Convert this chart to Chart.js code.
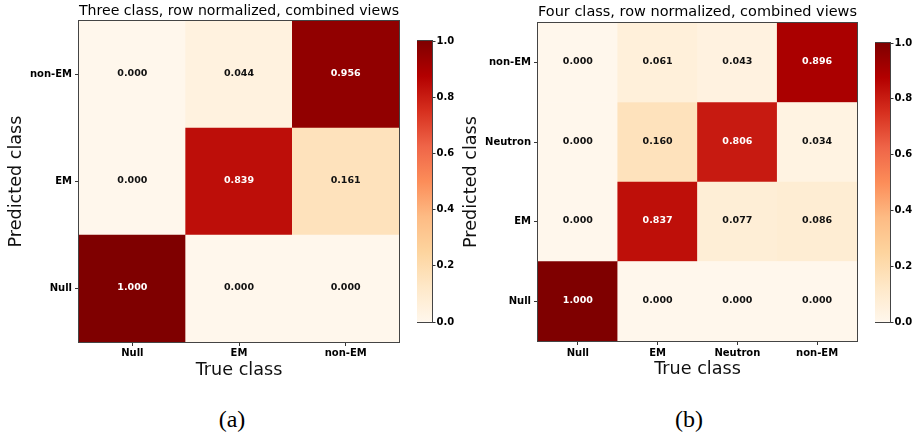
<!DOCTYPE html>
<html>
<head>
<meta charset="utf-8">
<script src="https://cdn.jsdelivr.net/npm/chart.js@4.4.0/dist/chart.umd.min.js"></script>
<style>
  body { margin: 0; background: #fff; width: 917px; height: 436px; position: relative; overflow: hidden; }
  canvas { position: absolute; }
  .cap { position: absolute; font-family: 'Liberation Serif', 'Times New Roman', serif; font-size: 24px; line-height: 24px; transform: translateX(-50%); color: #000; }
</style>
</head>
<body>
<canvas id="cm3" width="400" height="390" style="left:0;top:0"></canvas>
<canvas id="cb3" width="58" height="301" style="left:417px;top:31px"></canvas>
<canvas id="cm4" width="403" height="390" style="left:455px;top:0"></canvas>
<canvas id="cb4" width="58" height="299" style="left:875px;top:33px"></canvas>
<div class="cap" style="left:232px;top:407px">(a)</div>
<div class="cap" style="left:689px;top:407px">(b)</div>
<script>
// three class: columns = true class, rows = predicted class (bottom to top)
var trueClasses3 = ['Null', 'EM', 'non-EM'];
var predClasses3 = ['Null', 'EM', 'non-EM'];
var cm3Null  = [1.000, 0.000, 0.000];
var cm3EM    = [0.000, 0.839, 0.161];
var cm3NonEM = [0.000, 0.044, 0.956];

// four class
var trueClasses4 = ['Null', 'EM', 'Neutron', 'non-EM'];
var predClasses4 = ['Null', 'EM', 'Neutron', 'non-EM'];
var cm4Null    = [1.000, 0.000, 0.000, 0.000];
var cm4EM      = [0.000, 0.837, 0.077, 0.086];
var cm4Neutron = [0.000, 0.160, 0.806, 0.034];
var cm4NonEM   = [0.000, 0.061, 0.043, 0.896];

var colorbarTicks = [0.0, 0.2, 0.4, 0.6, 0.8, 1.0];

// matplotlib OrRd
var orrdStops = ['#fff7ec', '#fee8c8', '#fdd49e', '#fdbb84', '#fc8d59', '#ef6548', '#d7301f', '#b30000', '#7f0000'];
var FONT = "'DejaVu Sans', sans-serif";

function hex(c) { return [1, 3, 5].map(function (i) { return parseInt(c.substr(i, 2), 16); }); }
function orRd(v) {
    var n = orrdStops.length - 1;
    var p = Math.max(0, Math.min(1, v)) * n;
    var i = Math.min(Math.floor(p), n - 1), t = p - i;
    var a = hex(orrdStops[i]), b = hex(orrdStops[i + 1]);
    return 'rgb(' + a.map(function (x, k) { return Math.round(x + (b[k] - x) * t); }).join(',') + ')';
}

var frame = {
    id: 'frame',
    afterDraw: function (chart) {
        var a = chart.chartArea, ctx = chart.ctx;
        ctx.save();
        ctx.strokeStyle = '#444';
        ctx.lineWidth = 1;
        ctx.strokeRect(Math.round(a.left) - 0.5, Math.round(a.top) - 0.5, Math.round(a.right - a.left) + 1, Math.round(a.bottom - a.top) + 1);
        ctx.restore();
    }
};

var cellText = {
    id: 'cellText',
    afterDatasetsDraw: function (chart) {
        var ctx = chart.ctx;
        ctx.save();
        ctx.font = 'bold 9.5px ' + FONT;
        ctx.textAlign = 'center';
        ctx.textBaseline = 'middle';
        chart.data.datasets.forEach(function (ds, di) {
            chart.getDatasetMeta(di).data.forEach(function (el, j) {
                var v = ds.values[j];
                ctx.fillStyle = v > 0.5 ? '#fff' : '#111';
                ctx.fillText(v.toFixed(3), el.x, (el.y + el.base) / 2 - 1);
            });
        });
        ctx.restore();
    }
};

function heatmap(id, cols, rows, matrix, title, lay) {
    var datasets = matrix.map(function (vals, r) {
        return {
            data: vals.map(function () { return [r, r + 1]; }),
            values: vals,
            backgroundColor: vals.map(orRd),
            borderWidth: 0,
            barPercentage: 1,
            categoryPercentage: 1,
            grouped: false
        };
    });
    new Chart(document.getElementById(id), {
        type: 'bar',
        data: { labels: cols, datasets: datasets },
        options: {
            responsive: false,
            animation: false,
            layout: { padding: { left: 0, right: 1, top: 0, bottom: 0 } },
            plugins: {
                legend: { display: false },
                tooltip: { enabled: false },
                title: {
                    display: true, text: title, fullSize: false, color: '#000',
                    font: { family: FONT, size: 14.6, weight: 'normal' },
                    padding: { top: lay.titleTop, bottom: lay.titleBottom }
                }
            },
            scales: {
                x: {
                    ticks: { font: { family: FONT, size: 10, weight: 'bold' }, color: '#000', padding: lay.xTickPad, maxRotation: 0 },
                    grid: { drawOnChartArea: false, offset: false, tickLength: 4, tickColor: '#333' },
                    border: { display: false },
                    title: { display: true, text: 'True class', color: '#111', font: { family: FONT, size: 17.6 }, padding: { top: 0, bottom: lay.xTitlePad } },
                    afterFit: function (s) { s.height = lay.xHeight; }
                },
                y: {
                    min: 0,
                    max: rows.length,
                    afterBuildTicks: function (s) { s.ticks = rows.map(function (_, i) { return { value: i + 0.5 }; }); },
                    ticks: { callback: function (v, i) { return rows[i]; }, font: { family: FONT, size: 10, weight: 'bold' }, color: '#000', padding: 3 },
                    grid: { drawOnChartArea: false, tickLength: 4, tickColor: '#333' },
                    border: { display: false },
                    title: { display: true, text: 'Predicted class', color: '#111', font: { family: FONT, size: 17.6 }, padding: { top: lay.yTitlePad, bottom: 0 } },
                    afterFit: function (s) { s.width = lay.yWidth; }
                }
            }
        },
        plugins: [cellText, frame]
    });
}

function colorbar(id) {
    new Chart(document.getElementById(id), {
        type: 'bar',
        data: {
            labels: [''],
            datasets: [{
                data: [[0, 1]],
                backgroundColor: function (c) {
                    var a = c.chart.chartArea;
                    if (!a) return null;
                    var g = c.chart.ctx.createLinearGradient(0, a.bottom, 0, a.top);
                    orrdStops.forEach(function (col, i) { g.addColorStop(i / (orrdStops.length - 1), col); });
                    return g;
                },
                borderWidth: 0,
                barPercentage: 1,
                categoryPercentage: 1
            }]
        },
        options: {
            responsive: false,
            animation: false,
            layout: { padding: { left: 0, right: 0, top: 10, bottom: 10 } },
            plugins: { legend: { display: false }, tooltip: { enabled: false } },
            scales: {
                x: { display: false },
                y: {
                    position: 'right',
                    min: 0,
                    max: 1,
                    afterBuildTicks: function (s) { s.ticks = colorbarTicks.map(function (v) { return { value: v }; }); },
                    ticks: { callback: function (v) { return v.toFixed(1); }, font: { family: FONT, size: 10, weight: 'bold' }, color: '#000', padding: 1 },
                    grid: { drawOnChartArea: false, tickLength: 3.5, tickColor: '#333' },
                    border: { display: false },
                    afterFit: function (s) { s.width = 43; }
                }
            }
        },
        plugins: [frame]
    });
}

heatmap('cm3', trueClasses3, predClasses3, [cm3Null, cm3EM, cm3NonEM],
    'Three class, row normalized, combined views',
    { titleTop: 2.5, titleBottom: 1, xTickPad: 1.5, xTitlePad: 9, xHeight: 48, yTitlePad: 6, yWidth: 79 });
heatmap('cm4', trueClasses4, predClasses4, [cm4Null, cm4EM, cm4Neutron, cm4NonEM],
    'Four class, row normalized, combined views',
    { titleTop: 3.5, titleBottom: 2, xTickPad: 2, xTitlePad: 10, xHeight: 49, yTitlePad: 5.5, yWidth: 83 });
colorbar('cb3');
colorbar('cb4');
</script>
</body>
</html>
